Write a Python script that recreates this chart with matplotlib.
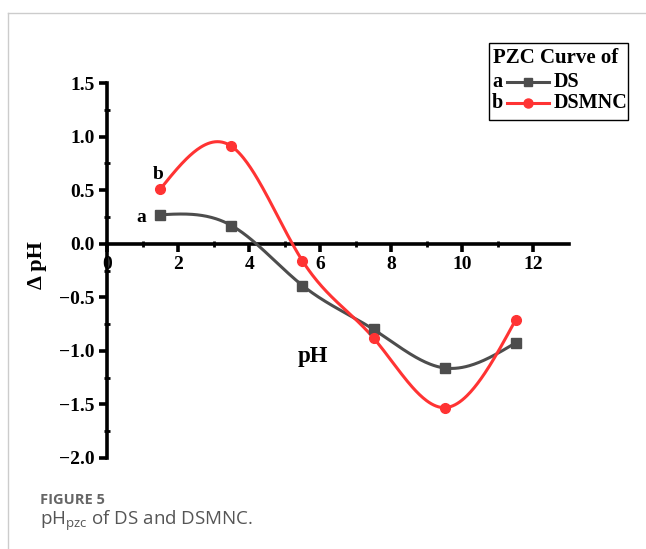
import numpy as np
import matplotlib
matplotlib.use("Agg")
import matplotlib.pyplot as plt
from matplotlib.lines import Line2D
from matplotlib.patches import Rectangle

# Dados
ph_inicial = [1.5, 3.5, 5.5, 7.5, 9.5, 11.5]
delta_ds = [0.27, 0.17, -0.39, -0.80, -1.16, -0.925]
delta_dsmnc = [0.51, 0.91, -0.16, -0.88, -1.53, -0.71]

x_ticks = [0, 2, 4, 6, 8, 10, 12]
y_ticks = [-2.0, -1.5, -1.0, -0.5, 0.0, 0.5, 1.0, 1.5]

GRAY = "#4d4d4d"
RED = "#ff3333"
SERIF = "Liberation Serif"


def spline_natural(x, y, n=300):
    """Spline cúbica natural só para desenhar a curva suave."""
    x = np.asarray(x, float)
    y = np.asarray(y, float)
    k = len(x)
    h = np.diff(x)
    A = np.zeros((k, k))
    b = np.zeros(k)
    A[0, 0] = A[-1, -1] = 1
    for i in range(1, k - 1):
        A[i, i - 1] = h[i - 1]
        A[i, i] = 2 * (h[i - 1] + h[i])
        A[i, i + 1] = h[i]
        b[i] = 6 * ((y[i + 1] - y[i]) / h[i] - (y[i] - y[i - 1]) / h[i - 1])
    M = np.linalg.solve(A, b)
    xs = np.linspace(x[0], x[-1], n)
    idx = np.clip(np.searchsorted(x, xs) - 1, 0, k - 2)
    x0, x1 = x[idx], x[idx + 1]
    hh = x1 - x0
    ys = (M[idx] * (x1 - xs) ** 3 / (6 * hh) + M[idx + 1] * (xs - x0) ** 3 / (6 * hh)
          + (y[idx] / hh - M[idx] * hh / 6) * (x1 - xs)
          + (y[idx + 1] / hh - M[idx + 1] * hh / 6) * (xs - x0))
    return xs, ys


fig = plt.figure(figsize=(6.46, 5.49), dpi=100)
W, H = 646, 549

# moldura cinza clara do cartão
fig.add_artist(Line2D([8 / W, 1], [1 - 13 / H, 1 - 13 / H], color="#cccccc", lw=1))
fig.add_artist(Line2D([8 / W, 8 / W], [0, 1 - 13 / H], color="#cccccc", lw=1))

ax = fig.add_axes([107 / W, 1 - 458 / H, (569 - 107) / W, (458 - 83) / H])
ax.set_xlim(0, 13)
ax.set_ylim(-2.0, 1.5)

for serie, cor, marc, ms in [(delta_ds, GRAY, "s", 6.5), (delta_dsmnc, RED, "o", 7)]:
    xs, ys = spline_natural(ph_inicial, serie)
    ax.plot(xs, ys, color=cor, lw=2.2, zorder=3)
    ax.plot(ph_inicial, serie, ls="none", marker=marc, color=cor, ms=ms, zorder=4)

ax.spines["left"].set_position(("data", 0))
ax.spines["bottom"].set_position(("data", 0))
ax.spines["top"].set_visible(False)
ax.spines["right"].set_visible(False)
for s in ("left", "bottom"):
    ax.spines[s].set_linewidth(2.6)

ax.set_xticks(x_ticks)
ax.set_xticklabels([str(v) for v in x_ticks])
ax.set_yticks(y_ticks)
ax.set_yticklabels([f"{v:.1f}".replace("-", "\u2212") for v in y_ticks])
ax.set_xticks(np.arange(1, 13, 2), minor=True)
ax.set_yticks(np.arange(-1.75, 1.5, 0.5), minor=True)
ax.tick_params(which="major", direction="out", length=6, width=2.6, pad=3,
               labelsize=14)
ax.tick_params(which="minor", direction="inout", length=4, width=2)
for lab in ax.get_xticklabels() + ax.get_yticklabels():
    lab.set_fontfamily(SERIF)
    lab.set_fontweight("bold")

fig.text(37 / W, 1 - 265 / H, "\u0394 pH", rotation=90, fontsize=16, fontfamily=SERIF,
         fontweight="bold", ha="center", va="center")
ax.text(5.8, -1.05, "pH", fontsize=16.5, fontfamily=SERIF, fontweight="bold",
        ha="center", va="center")
ax.text(0.95, 0.24, "a", fontsize=14, fontfamily=SERIF, fontweight="bold",
        ha="center", va="center")
ax.text(1.45, 0.65, "b", fontsize=14, fontfamily=SERIF, fontweight="bold",
        ha="center", va="center")

# caixa da legenda
fig.add_artist(Rectangle((489 / W, 1 - 120 / H), (628 - 489) / W, (120 - 43) / H,
                         fill=False, ec="black", lw=1, transform=fig.transFigure))
fig.text(493 / W, 1 - 58 / H, "PZC Curve of", fontsize=15, fontfamily=SERIF,
         fontweight="bold", va="center")
for yy, letra, nome, cor, marc, ms in [(82, "a", "DS", GRAY, "s", 6), (103, "b", "DSMNC", RED, "o", 6.5)]:
    fig.text(492 / W, 1 - yy / H, letra, fontsize=14.5, fontfamily=SERIF,
             fontweight="bold", va="center")
    fig.add_artist(Line2D([507 / W, 549 / W], [1 - yy / H] * 2, color=cor, lw=2.2))
    fig.add_artist(Line2D([528 / W], [1 - yy / H], color=cor, marker=marc, ms=ms))
    fig.text(554 / W, 1 - yy / H, nome, fontsize=14.5, fontfamily=SERIF,
             fontweight="bold", va="center")

# legenda da figura
fig.text(40 / W, 1 - 500 / H, "FIGURE 5", fontsize=10.5, fontfamily="Open Sans",
         fontweight="bold", color="#666666", va="center")
fig.text(40 / W, 1 - 521 / H, r"pH$_{\mathregular{pzc}}$ of DS and DSMNC.", fontsize=13.5,
         fontfamily="Open Sans", color="#555555", va="center")

fig.savefig("out.png", dpi=100)
